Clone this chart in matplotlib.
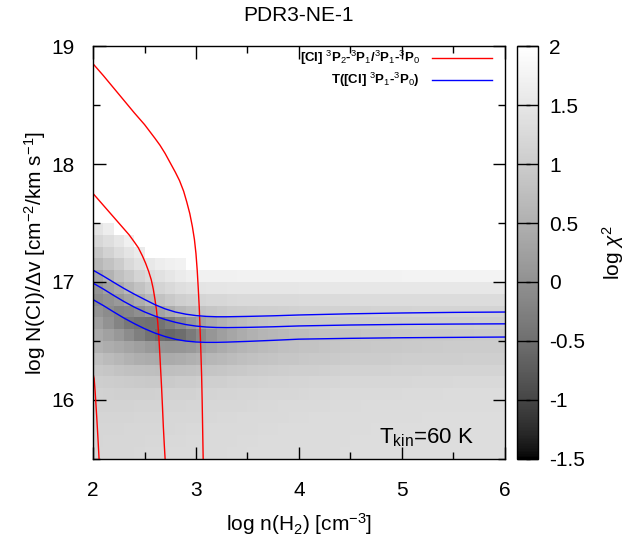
import numpy as np
import matplotlib
matplotlib.use("Agg")
import matplotlib.pyplot as plt
from matplotlib.colors import LinearSegmentedColormap

plt.rcParams['font.family'] = ['Liberation Sans', 'DejaVu Sans']
plt.rcParams['mathtext.fontset'] = 'custom'
plt.rcParams['mathtext.rm'] = 'Liberation Sans'
plt.rcParams['mathtext.it'] = 'Liberation Sans:italic'

# grid cell edges: log n(H2) and log N(CI)/dv
x_edges = np.round(np.arange(2.0, 6.01, 0.1), 2)
y_edges = np.round(np.arange(15.5, 17.61, 0.1), 2)

nan = np.nan
# log chi^2, rows from bottom (15.5-15.6) to top (17.5-17.6), 40 columns each
chi2_rows = [
    [1.20, 1.21, 1.22, 1.22, 1.23, 1.24, 1.24, 1.25, 1.25, 1.26, 1.26, 1.27, 1.27, 1.28, 1.28, 1.29, 1.29, 1.30, 1.30, 1.30,
     1.31, 1.31, 1.31, 1.31, 1.32, 1.32, 1.32, 1.32, 1.32, 1.32, 1.33, 1.33, 1.33, 1.33, 1.33, 1.33, 1.33, 1.33, 1.33, 1.33],
    [1.19, 1.20, 1.21, 1.21, 1.22, 1.23, 1.23, 1.24, 1.24, 1.25, 1.26, 1.26, 1.27, 1.27, 1.28, 1.28, 1.29, 1.29, 1.30, 1.30,
     1.30, 1.31, 1.31, 1.31, 1.31, 1.32, 1.32, 1.32, 1.32, 1.32, 1.32, 1.33, 1.33, 1.33, 1.33, 1.33, 1.33, 1.33, 1.33, 1.33],
    [1.18, 1.18, 1.19, 1.20, 1.20, 1.21, 1.22, 1.22, 1.23, 1.24, 1.24, 1.25, 1.26, 1.26, 1.27, 1.27, 1.28, 1.28, 1.29, 1.29,
     1.30, 1.30, 1.30, 1.31, 1.31, 1.31, 1.31, 1.32, 1.32, 1.32, 1.32, 1.32, 1.32, 1.33, 1.33, 1.33, 1.33, 1.33, 1.33, 1.33],
    [1.16, 1.16, 1.17, 1.17, 1.18, 1.18, 1.19, 1.20, 1.21, 1.21, 1.22, 1.23, 1.24, 1.24, 1.25, 1.26, 1.26, 1.27, 1.27, 1.28,
     1.28, 1.29, 1.29, 1.29, 1.30, 1.30, 1.30, 1.31, 1.31, 1.31, 1.31, 1.31, 1.32, 1.32, 1.32, 1.32, 1.32, 1.32, 1.32, 1.32],
    [1.13, 1.13, 1.13, 1.13, 1.14, 1.14, 1.15, 1.16, 1.17, 1.18, 1.19, 1.20, 1.21, 1.22, 1.22, 1.23, 1.24, 1.24, 1.25, 1.26,
     1.26, 1.27, 1.27, 1.28, 1.28, 1.28, 1.29, 1.29, 1.29, 1.30, 1.30, 1.30, 1.30, 1.30, 1.31, 1.31, 1.31, 1.31, 1.31, 1.31],
    [1.10, 1.09, 1.08, 1.08, 1.08, 1.08, 1.09, 1.10, 1.11, 1.12, 1.14, 1.15, 1.16, 1.17, 1.18, 1.19, 1.20, 1.21, 1.22, 1.22,
     1.23, 1.24, 1.24, 1.25, 1.25, 1.26, 1.26, 1.27, 1.27, 1.27, 1.28, 1.28, 1.28, 1.28, 1.29, 1.29, 1.29, 1.29, 1.29, 1.29],
    [1.04, 1.02, 1.00, 0.98, 0.97, 0.96, 0.96, 0.97, 0.99, 1.01, 1.03, 1.05, 1.07, 1.09, 1.10, 1.12, 1.13, 1.14, 1.15, 1.16,
     1.17, 1.18, 1.18, 1.19, 1.20, 1.20, 1.21, 1.21, 1.22, 1.22, 1.22, 1.23, 1.23, 1.23, 1.23, 1.24, 1.24, 1.24, 1.24, 1.24],
    [0.93, 0.89, 0.85, 0.81, 0.78, 0.76, 0.75, 0.76, 0.78, 0.81, 0.84, 0.87, 0.90, 0.93, 0.95, 0.98, 1.00, 1.02, 1.03, 1.05,
     1.06, 1.07, 1.08, 1.09, 1.10, 1.11, 1.11, 1.12, 1.12, 1.13, 1.13, 1.13, 1.14, 1.14, 1.14, 1.15, 1.15, 1.15, 1.15, 1.15],
    [0.78, 0.70, 0.62, 0.55, 0.48, 0.44, 0.42, 0.42, 0.45, 0.50, 0.56, 0.62, 0.67, 0.72, 0.76, 0.80, 0.83, 0.86, 0.88, 0.90,
     0.92, 0.94, 0.95, 0.97, 0.98, 0.99, 1.00, 1.01, 1.01, 1.02, 1.03, 1.03, 1.03, 1.04, 1.04, 1.04, 1.05, 1.05, 1.05, 1.05],
    [0.55, 0.45, 0.38, 0.30, 0.22, 0.14, 0.08, 0.06, 0.08, 0.14, 0.24, 0.34, 0.43, 0.51, 0.58, 0.64, 0.69, 0.73, 0.77, 0.80,
     0.83, 0.85, 0.87, 0.89, 0.91, 0.92, 0.93, 0.94, 0.95, 0.96, 0.97, 0.97, 0.98, 0.98, 0.99, 0.99, 0.99, 1.00, 1.00, 1.00],
    [0.38, 0.25, 0.10, -0.07, -0.26, -0.44, -0.55, -0.60, -0.52, -0.35, -0.12, 0.08, 0.22, 0.34, 0.44, 0.52, 0.58, 0.63, 0.67, 0.71,
     0.74, 0.77, 0.80, 0.82, 0.84, 0.86, 0.88, 0.89, 0.90, 0.92, 0.93, 0.94, 0.95, 0.96, 0.96, 0.97, 0.97, 0.98, 0.98, 0.98],
    [0.21, 0.01, -0.19, -0.37, -0.44, -0.47, -0.44, -0.30, -0.10, 0.10, 0.28, 0.42, 0.54, 0.64, 0.72, 0.78, 0.83, 0.87, 0.90, 0.92,
     0.94, 0.96, 0.97, 0.98, 0.99, 1.00, 1.01, 1.01, 1.02, 1.02, 1.03, 1.03, 1.03, 1.04, 1.04, 1.04, 1.04, 1.05, 1.05, 1.05],
    [0.05, -0.07, -0.19, -0.15, -0.03, 0.13, 0.29, 0.46, 0.62, 0.74, 0.83, 0.90, 0.95, 0.99, 1.02, 1.04, 1.06, 1.07, 1.08, 1.09,
     1.10, 1.10, 1.11, 1.11, 1.12, 1.12, 1.12, 1.13, 1.13, 1.13, 1.13, 1.14, 1.14, 1.14, 1.14, 1.14, 1.14, 1.14, 1.14, 1.14],
    [-0.07, 0.01, 0.13, 0.29, 0.46, 0.64, 0.82, 0.96, 1.05, 1.12, 1.17, 1.20, 1.22, 1.24, 1.25, 1.26, 1.26, 1.27, 1.27, 1.27,
     1.28, 1.28, 1.28, 1.28, 1.28, 1.29, 1.29, 1.29, 1.29, 1.29, 1.29, 1.29, 1.29, 1.29, 1.29, 1.30, 1.30, 1.30, 1.30, 1.30],
    [0.05, 0.25, 0.42, 0.64, 0.82, 1.00, 1.15, 1.24, 1.34, 1.41, 1.45, 1.47, 1.48, 1.49, 1.49, 1.50, 1.50, 1.50, 1.50, 1.50,
     1.51, 1.51, 1.51, 1.51, 1.51, 1.51, 1.51, 1.51, 1.52, 1.52, 1.52, 1.52, 1.52, 1.52, 1.52, 1.52, 1.52, 1.52, 1.52, 1.52],
    [0.33, 0.55, 0.77, 0.96, 1.15, 1.29, 1.39, 1.49, 1.59, 1.66, 1.70, 1.72, 1.72, 1.72, 1.73, 1.73, 1.73, 1.73, 1.73, 1.73,
     1.74, 1.74, 1.74, 1.74, 1.74, 1.74, 1.74, 1.74, 1.74, 1.74, 1.75, 1.75, 1.75, 1.75, 1.75, 1.75, 1.75, 1.75, 1.75, 1.75],
    [0.64, 0.82, 1.00, 1.24, 1.39, 1.54, 1.64, 1.69, 1.74, nan, nan, nan, nan, nan, nan, nan, nan, nan, nan, nan,
     nan, nan, nan, nan, nan, nan, nan, nan, nan, nan, nan, nan, nan, nan, nan, nan, nan, nan, nan, nan],
    [0.91, 1.10, 1.29, 1.44, 1.59, nan, nan, nan, nan, nan, nan, nan, nan, nan, nan, nan, nan, nan, nan, nan,
     nan, nan, nan, nan, nan, nan, nan, nan, nan, nan, nan, nan, nan, nan, nan, nan, nan, nan, nan, nan],
    [1.20, 1.34, 1.49, 1.69, nan, nan, nan, nan, nan, nan, nan, nan, nan, nan, nan, nan, nan, nan, nan, nan,
     nan, nan, nan, nan, nan, nan, nan, nan, nan, nan, nan, nan, nan, nan, nan, nan, nan, nan, nan, nan],
    [1.44, 1.64, nan, nan, nan, nan, nan, nan, nan, nan, nan, nan, nan, nan, nan, nan, nan, nan, nan, nan,
     nan, nan, nan, nan, nan, nan, nan, nan, nan, nan, nan, nan, nan, nan, nan, nan, nan, nan, nan, nan],
    [nan] * 40,
]

# line ratio contours (red)
ratio_a_x = [2.0, 2.1, 2.2, 2.3, 2.4, 2.5, 2.6, 2.65, 2.7, 2.75, 2.8, 2.84, 2.88, 2.91, 2.94, 2.965, 2.985,
             3.0, 3.012, 3.022, 3.032, 3.04, 3.048, 3.055, 3.06, 3.065, 3.07]
ratio_a_y = [18.85, 18.75, 18.645, 18.54, 18.435, 18.335, 18.22, 18.16, 18.09, 18.01, 17.93, 17.86, 17.77, 17.68, 17.58, 17.47, 17.36,
             17.24, 17.10, 16.95, 16.78, 16.60, 16.40, 16.2, 16.0, 15.75, 15.5]
ratio_b_x = [2.0, 2.05, 2.1, 2.2, 2.3, 2.35, 2.4, 2.44, 2.48, 2.51, 2.54, 2.565, 2.585, 2.60, 2.615, 2.628,
             2.638, 2.648, 2.657, 2.666, 2.675, 2.683, 2.692, 2.70]
ratio_b_y = [17.75, 17.70, 17.65, 17.55, 17.45, 17.40, 17.34, 17.29, 17.22, 17.16, 17.09, 17.02, 16.94, 16.86, 16.77, 16.66,
             16.55, 16.40, 16.25, 16.10, 15.93, 15.77, 15.62, 15.5]
ratio_c_x = [2.0, 2.01, 2.02, 2.035, 2.047, 2.058]
ratio_c_y = [16.22, 16.18, 16.07, 15.86, 15.68, 15.5]

# excitation temperature contours (blue)
tex_x = [2.0, 2.1, 2.2, 2.3, 2.4, 2.5, 2.6, 2.7, 2.8, 2.9, 3.0, 3.1, 3.2, 3.3, 3.5, 3.75, 4.0, 4.5, 5.0, 5.5, 6.0]
tex_top = [17.10, 17.05, 16.997, 16.945, 16.897, 16.852, 16.808, 16.772, 16.745, 16.727, 16.715, 16.708, 16.705, 16.705,
           16.708, 16.713, 16.72, 16.73, 16.737, 16.742, 16.745]
tex_mid = [16.99, 16.94, 16.886, 16.834, 16.787, 16.746, 16.711, 16.682, 16.658, 16.639, 16.626, 16.618, 16.614, 16.613,
           16.615, 16.62, 16.627, 16.635, 16.64, 16.643, 16.645]
tex_bot = [16.85, 16.80, 16.746, 16.694, 16.647, 16.604, 16.567, 16.537, 16.514, 16.499, 16.491, 16.488, 16.488, 16.49,
           16.496, 16.505, 16.515, 16.522, 16.527, 16.53, 16.533]

chi2 = np.ma.masked_invalid(np.array(chi2_rows))

# gnuplot "set palette gray" (gamma 1.5)
levels = np.linspace(0, 1, 256)
gray = levels ** (1 / 1.5)
cmap = LinearSegmentedColormap.from_list('gnugray', [(g, g, g) for g in gray])

fig = plt.figure(figsize=(6.42, 5.43), dpi=100)
ax = fig.add_axes([0.145, 0.155, 0.641, 0.760])
cax = fig.add_axes([0.805, 0.155, 0.033, 0.760])

mesh = ax.pcolormesh(x_edges, y_edges, chi2, cmap=cmap, vmin=-1.5, vmax=2, shading='flat')

ax.plot(ratio_a_x, ratio_a_y, color='red', lw=1)
ax.plot(ratio_b_x, ratio_b_y, color='red', lw=1)
ax.plot(ratio_c_x, ratio_c_y, color='red', lw=1)
ax.plot(tex_x, tex_top, color='blue', lw=1)
ax.plot(tex_x, tex_mid, color='blue', lw=1)
ax.plot(tex_x, tex_bot, color='blue', lw=1)

ax.set_xlim(2, 6)
ax.set_ylim(15.5, 19)
ax.set_xticks([2, 3, 4, 5, 6])
ax.set_yticks([16, 17, 18, 19])
ax.set_xticks(np.arange(2.5, 6, 1), minor=True)
ax.set_yticks(np.arange(15.5, 19, 1), minor=True)
ax.tick_params(which='both', direction='in', top=True, right=True, labelsize=15, width=1)
ax.tick_params(which='major', length=9)
ax.tick_params(which='minor', length=5)
ax.tick_params(axis='x', pad=16)
ax.tick_params(axis='y', pad=13)
for s in ax.spines.values():
    s.set_linewidth(1)

ax.set_xlabel(r'log n(H$_2$) [cm$^{-3}$]', fontsize=15, labelpad=8)
ax.set_ylabel(r'log N(CI)/$\Delta$v [cm$^{-2}$/km s$^{-1}$]', fontsize=15, labelpad=3)
ax.set_title('PDR3-NE-1', fontsize=15, pad=18)

ax.text(4.78, 15.63, r'T$_{\rm kin}$=60 K', fontsize=16)

# legend (right-aligned, gnuplot style)
ax.plot([5.293, 5.874], [18.9, 18.9], color='red', lw=1)
ax.plot([5.293, 5.874], [18.71, 18.71], color='blue', lw=1)
ax.text(5.177, 18.9, r'[CI] $^3$P$_2$-$^3$P$_1$/$^3$P$_1$-$^3$P$_0$', fontsize=9.5,
        fontweight='bold', ha='right', va='center')
ax.text(5.177, 18.71, r'T([CI] $^3$P$_1$-$^3$P$_0$)', fontsize=9.5,
        fontweight='bold', ha='right', va='center')

cb = fig.colorbar(mesh, cax=cax)
cb.set_ticks([-1.5, -1, -0.5, 0, 0.5, 1, 1.5, 2])
cb.set_ticklabels(['-1.5', '-1', '-0.5', '0', '0.5', '1', '1.5', '2'])
cb.ax.tick_params(labelsize=15, direction='in', length=9, width=1, left=True, right=True, pad=8)
cb.outline.set_linewidth(1)
cb.set_label(r'log $\chi^2$', fontsize=15, labelpad=11)

fig.savefig('out.png', dpi=100)
